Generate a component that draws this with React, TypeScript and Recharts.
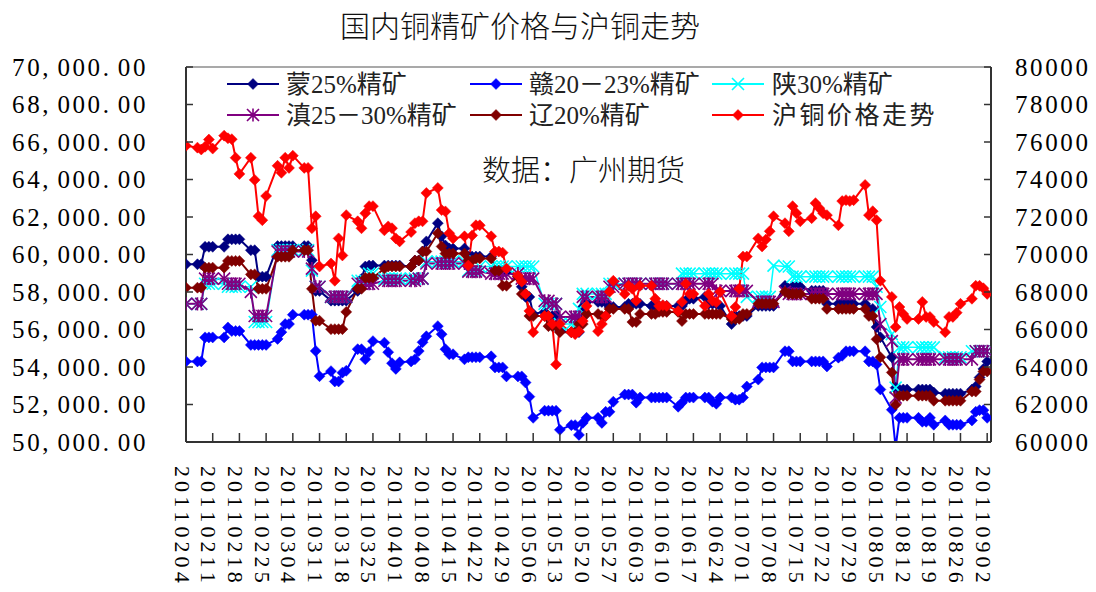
import React from 'react';
import { ComposedChart, Line, XAxis, YAxis, ReferenceLine, Legend } from 'recharts';

const dates = [
  '20110204',
  '20110207', '20110208', '20110209', '20110210', '20110211',
  '20110214', '20110215', '20110216', '20110217', '20110218',
  '20110221', '20110222', '20110223', '20110224', '20110225',
  '20110228', '20110301', '20110302', '20110303', '20110304',
  '20110307', '20110308', '20110309', '20110310', '20110311',
  '20110314', '20110315', '20110316', '20110317', '20110318',
  '20110321', '20110322', '20110323', '20110324', '20110325',
  '20110328', '20110329', '20110330', '20110331', '20110401',
  '20110404', '20110405', '20110406', '20110407', '20110408',
  '20110411', '20110412', '20110413', '20110414', '20110415',
  '20110418', '20110419', '20110420', '20110421', '20110422',
  '20110425', '20110426', '20110427', '20110428', '20110429',
  '20110502', '20110503', '20110504', '20110505', '20110506',
  '20110509', '20110510', '20110511', '20110512', '20110513',
  '20110516', '20110517', '20110518', '20110519', '20110520',
  '20110523', '20110524', '20110525', '20110526', '20110527',
  '20110530', '20110531', '20110601', '20110602', '20110603',
  '20110606', '20110607', '20110608', '20110609', '20110610',
  '20110613', '20110614', '20110615', '20110616', '20110617',
  '20110620', '20110621', '20110622', '20110623', '20110624',
  '20110627', '20110628', '20110629', '20110630', '20110701',
  '20110704', '20110705', '20110706', '20110707', '20110708',
  '20110711', '20110712', '20110713', '20110714', '20110715',
  '20110718', '20110719', '20110720', '20110721', '20110722',
  '20110725', '20110726', '20110727', '20110728', '20110729',
  '20110801', '20110802', '20110803', '20110804', '20110805',
  '20110808', '20110809', '20110810', '20110811', '20110812',
  '20110815', '20110816', '20110817', '20110818', '20110819',
  '20110822', '20110823', '20110824', '20110825', '20110826',
  '20110829', '20110830', '20110831', '20110901', '20110902',
];

// 蒙25%精矿
const meng = [
  59480,
  59480, 59480, 60410, 60410, 60410,
  60410, 60810, 60810, 60810, 60810,
  60230, 60230, 58820, 58820, 58820,
  60450, 60450, 60450, 60450, 60450,
  60450, 60450, 59700, 58060, 58060,
  57540, 57540, 57540, 57540, 57540,
  58060, 58700, 59360, 59410, 59410,
  59410, 59410, 59410, 59410, 59410,
  59360, 59680, 59680, 60160, 60700,
  61670, 60970, 60480, 60320, 60320,
  60320, 59890, 59890, 59890, 59890,
  59890, 59140, 59140, 59140, 59090,
  58820, 58280, 57740, 57740, 56830,
  56940, 56720, 56720, 56720, 55920,
  55860, 55860, 55860, 57200, 57470,
  57470, 57470, 57470, 57200, 57200,
  57200, 57370, 57370, 57370, 57370,
  57260, 57260, 57260, 57260, 57260,
  57260, 57260, 57530, 57640, 57640,
  57740, 57370, 57370, 57370, 57260,
  56290, 56720, 56720, 56720, 56720,
  57260, 57260, 57260, 57260, 57260,
  58330, 58170, 58280, 58280, 58280,
  58070, 58070, 58070, 58070, 57370,
  57370, 57370, 57370, 57370, 57370,
  57370, 57100, 57100, 56130, 55590,
  54520, 52900, 52800, 52800, 52800,
  52800, 52800, 52800, 52800, 52640,
  52580, 52580, 52580, 52580, 52580,
  52800, 52960, 53440, 53900, 54300,
];

// 赣20－23%精矿
const gan = [
  54300,
  54300, 54300, 55580, 55580, 55580,
  55580, 56110, 55920, 55920, 55920,
  55180, 55180, 55180, 55180, 55180,
  55500, 55860, 56290, 56290, 56790,
  56790, 56790, 56790, 54860, 53510,
  53780, 53230, 53230, 53700, 53800,
  54950, 54950, 54410, 54800, 55380,
  55300, 54790, 54200, 53900, 54250,
  54300, 54410, 54850, 55320, 55640,
  56180, 55750, 54950, 54680, 54680,
  54410, 54520, 54520, 54520, 54520,
  54570, 53980, 53980, 53980, 53500,
  53500, 53500, 53170, 52420, 51290,
  51670, 51670, 51670, 51670, 50650,
  50900, 50900, 50380, 51020, 51290,
  51290, 51020, 51610, 51610, 52150,
  52530, 52530, 52530, 52100, 52370,
  52370, 52370, 52370, 52370, 52370,
  51880, 52100, 52370, 52370, 52370,
  52370, 52370, 52150, 52040, 52370,
  52370, 52260, 52260, 52370, 52960,
  53330, 53980, 53980, 53980, 53980,
  54840, 54840, 54300, 54300, 54300,
  54300, 54300, 54300, 54300, 54030,
  54500, 54600, 54840, 54840, 54840,
  54840, 54300, 54300, 54140, 52800,
  51720, 49700, 51290, 51290, 51290,
  51290, 51080, 51080, 51290, 50920,
  51150, 50920, 50920, 50920, 50920,
  51150, 51610, 51700, 51700, 51290,
];

// 陕30%精矿
const shaan = [
  57370,
  57370, 57370, 58440, 58440, 58440,
  58440, 58280, 58280, 58280, 58280,
  58280, 56400, 56400, 56400, 56400,
  60230, 60230, 60230, 60230, 60230,
  60230, 60230, 59140, 58280, 58280,
  57740, 57740, 57740, 57740, 57740,
  58600, 58600, 58600, 58980, 58980,
  58710, 58710, 58710, 58710, 58710,
  58710, 58710, 58710, 58710, 59620,
  59620, 59620, 59620, 59620, 59620,
  59620, 59140, 59140, 59140, 59360,
  59360, 59360, 59360, 59360, 59360,
  59360, 59360, 59360, 59360, 59360,
  57370, 57370, 57370, 57370, 56290,
  56290, 56290, 57100, 57900, 57900,
  57900, 57900, 57900, 58440, 58440,
  58440, 58440, 58440, 58440, 58440,
  58440, 58440, 58440, 58440, 58440,
  58440, 58980, 58980, 58980, 58980,
  58980, 58980, 58980, 58980, 58980,
  58980, 58980, 58980, 58980, 57740,
  57740, 57740, 57740, 57740, 59410,
  59360, 59360, 58820, 58820, 58820,
  58820, 58820, 58820, 58820, 58820,
  58820, 58820, 58820, 58820, 58820,
  58820, 58820, 58820, 58280, 57200,
  55750, 52900, 55050, 55050, 55050,
  55050, 55050, 55050, 55050, 55050,
  54520, 54520, 54520, 54520, 54520,
  54840, 54840, 54840, 54840, 54840,
];

// 滇25－30%精矿
const dian = [
  57370,
  57370, 57370, 58710, 58710, 58710,
  58710, 58440, 58440, 58440, 58440,
  58010, 56720, 56720, 56720, 56720,
  60160, 60160, 60160, 60160, 60160,
  60160, 60160, 59250, 58280, 58280,
  57740, 57740, 57740, 57740, 57740,
  58440, 58440, 58440, 58440, 58440,
  58600, 58600, 58600, 58600, 58600,
  58600, 58600, 58710, 58710, 59520,
  59520, 59520, 59520, 59520, 59520,
  59520, 59090, 59090, 59090, 59090,
  58980, 58980, 58980, 58980, 58980,
  58980, 58710, 58710, 58710, 58710,
  57530, 57530, 57370, 57370, 56670,
  56670, 56670, 56670, 57740, 57740,
  57740, 57740, 57740, 58280, 58280,
  58440, 58440, 58440, 58440, 58440,
  58440, 58440, 58440, 58440, 58440,
  58440, 58440, 58440, 58440, 58440,
  58440, 58440, 58440, 58060, 58060,
  58060, 58060, 58060, 58060, 58060,
  57470, 57470, 57470, 57470, 57470,
  58010, 57900, 57900, 57900, 57900,
  57900, 57900, 57900, 57900, 57900,
  57900, 57900, 57900, 57900, 57900,
  57900, 57900, 57900, 57900, 56290,
  55380, 52370, 54410, 54410, 54410,
  54410, 54410, 54410, 54410, 54410,
  54410, 54410, 54410, 54410, 54410,
  54410, 54840, 54840, 54840, 54840,
];

// 辽20%精矿
const liao = [
  58230,
  58230, 58230, 59300, 59300, 59300,
  59300, 59660, 59660, 59660, 59660,
  58940, 58940, 58170, 58170, 58170,
  59880, 59880, 59880, 59880, 60230,
  60230, 60230, 58170, 56470, 56470,
  56020, 56020, 56020, 56020, 56940,
  58170, 58170, 58760, 58760, 58760,
  59250, 59360, 59360, 59360, 59360,
  59360, 59680, 59680, 60160, 60160,
  61130, 60430, 60050, 60050, 60050,
  60050, 59680, 59680, 59790, 59790,
  59790, 59140, 59140, 58330, 58330,
  58820, 57900, 57900, 56720, 56720,
  56720, 56180, 56180, 56180, 55860,
  55860, 55860, 56290, 56290, 56830,
  56830, 56720, 56720, 57100, 57100,
  57100, 57100, 56400, 56400, 56830,
  56830, 56830, 56940, 56940, 56940,
  56940, 56450, 56830, 56830, 56830,
  56830, 56830, 56830, 56830, 56830,
  56560, 56560, 56560, 56830, 56830,
  57370, 57370, 57370, 57370, 57370,
  58010, 57900, 57900, 57900, 57900,
  57640, 57640, 57640, 57640, 57100,
  57100, 57100, 57100, 57100, 57100,
  57100, 56720, 56720, 55480, 54520,
  53710, 51990, 52470, 52470, 52470,
  52470, 52470, 52470, 52470, 52200,
  52200, 52200, 52200, 52200, 52200,
  52690, 52690, 53330, 53760, 53760,
];

// 沪铜价格走势 (right axis)
const hutong = [
  75800,
  75700, 75600, 75750, 76130, 75650,
  76340, 76200, 76150, 75160, 74300,
  75160, 73980, 72040, 71830, 73120,
  74730, 74360, 75160, 74620, 75270,
  74620, 74620, 71400, 72040, 69360,
  69520, 68600, 70860, 69950, 72100,
  71770, 71400, 72200, 72580, 72580,
  71290, 71500, 71400, 70860, 70700,
  71200, 71670, 71770, 71770, 73280,
  73550, 72370, 72300, 71130, 70860,
  70970, 69410, 71020, 71560, 71560,
  70970, 70160, 70160, 70100, 69250,
  68870, 68550, 67900, 66990, 65860,
  66720, 66720, 66290, 64140, 66290,
  65860, 65750, 65900, 66450, 67260,
  65910, 66290, 66720, 68010, 68600,
  67900, 68330, 68170, 67530, 68330,
  68330, 67640, 67260, 67300, 67260,
  66990, 67470, 68440, 67900, 67900,
  67260, 67900, 67530, 67450, 68010,
  66720, 67200, 68170, 69890, 69890,
  70860, 70430, 70800, 71240, 72040,
  71670, 71240, 72580, 72200, 71770,
  71940, 72740, 72470, 72200, 72100,
  71560, 72850, 72900, 72850, 72900,
  73710, 72100, 72310, 71830, 68600,
  67740, 66130, 67200, 66830, 66560,
  66560, 67470, 66670, 66670, 66400,
  65860, 66670, 66670, 66900, 67370,
  67640, 68330, 68330, 68200, 67900,
];

const leftTicks = [50000, 52000, 54000, 56000, 58000, 60000, 62000, 64000, 66000, 68000, 70000];
const rightTicks = [60000, 62000, 64000, 66000, 68000, 70000, 72000, 74000, 76000, 78000, 80000];
const xTickLabels = [
  '20110204', '20110211', '20110218', '20110225', '20110304', '20110311', '20110318', '20110325',
  '20110401', '20110408', '20110415', '20110422', '20110429', '20110506', '20110513', '20110520',
  '20110527', '20110603', '20110610', '20110617', '20110624', '20110701', '20110708', '20110715',
  '20110722', '20110729', '20110805', '20110812', '20110819', '20110826', '20110902',
];

const seriesNames = ['蒙25%精矿', '赣20－23%精矿', '陕30%精矿', '滇25－30%精矿', '辽20%精矿', '沪铜价格走势'];
const seriesColors = ['#000080', '#0000FF', '#00FFFF', '#800080', '#800000', '#FF0000'];

const BASE = Date.UTC(2011, 1, 4);
const dayOf = (s: string) =>
  (Date.UTC(+s.slice(0, 4), +s.slice(4, 6) - 1, +s.slice(6, 8)) - BASE) / 86400000;
const dayToLabel: Record<number, string> = {};
xTickLabels.forEach((s) => (dayToLabel[dayOf(s)] = s));
const xTicks = xTickLabels.map(dayOf);

const data = dates.map((d, i) => ({
  day: dayOf(d),
  meng: meng[i],
  gan: gan[i],
  shaan: shaan[i],
  dian: dian[i],
  liao: liao[i],
  hutong: hutong[i],
}));

const FONT_NUM = "'Liberation Serif', 'Noto Sans CJK SC', serif";
const FONT_CJK = "'Liberation Serif', 'Noto Sans CJK SC', sans-serif";
const PITCH = 15.1;
const AXIS_COLOR = '#333333';

const charXs = (s: string, start: number) => s.split('').map((_, i) => (start + i * PITCH).toFixed(1)).join(' ');

const LeftTick = (props: any) => {
  const { x, y, payload } = props;
  const s = Number(payload.value).toLocaleString('en-US', { minimumFractionDigits: 2, maximumFractionDigits: 2 });
  const start = x - 38 - s.length * PITCH;
  return (
    <g>
      <line x1={x} x2={x + 7} y1={y} y2={y} stroke={AXIS_COLOR} strokeWidth={1.5} />
      <text x={charXs(s, start)} y={y} dominantBaseline="central" fontFamily={FONT_NUM} fontSize={25} fill="#000">
        {s}
      </text>
    </g>
  );
};

const RightTick = (props: any) => {
  const { x, y, payload } = props;
  const s = String(payload.value);
  return (
    <g>
      <line x1={x} x2={x - 7} y1={y} y2={y} stroke={AXIS_COLOR} strokeWidth={1.5} />
      <text x={charXs(s, x + 24)} y={y} dominantBaseline="central" fontFamily={FONT_NUM} fontSize={25} fill="#000">
        {s}
      </text>
    </g>
  );
};

const XTick = (props: any) => {
  const { x, y, payload } = props;
  const s = dayToLabel[payload.value] ?? '';
  return (
    <g>
      <line x1={x} x2={x} y1={y} y2={y - 9} stroke={AXIS_COLOR} strokeWidth={1.5} />
      <text
        transform={`translate(${x - 4},${y + 24}) rotate(90)`}
        x={charXs(s, 0)}
        y={0}
        dominantBaseline="central"
        fontFamily={FONT_NUM}
        fontSize={22}
        fill="#000"
      >
        {s}
      </text>
    </g>
  );
};

const Diamond = ({ cx, cy, color, r = 5.5 }: any) => (
  <path d={`M${cx},${cy - r}L${cx + r},${cy}L${cx},${cy + r}L${cx - r},${cy}Z`} fill={color} stroke={color} strokeWidth={0.5} />
);
const Cross = ({ cx, cy, color, r = 6 }: any) => (
  <path d={`M${cx - r},${cy - r}L${cx + r},${cy + r}M${cx - r},${cy + r}L${cx + r},${cy - r}`} stroke={color} strokeWidth={1.6} fill="none" />
);
const Star = ({ cx, cy, color, r = 6 }: any) => (
  <path
    d={`M${cx - r},${cy - r}L${cx + r},${cy + r}M${cx - r},${cy + r}L${cx + r},${cy - r}M${cx},${cy - r * 1.1}L${cx},${cy + r * 1.1}`}
    stroke={color}
    strokeWidth={1.6}
    fill="none"
  />
);

const markerKinds = ['diamond', 'diamond', 'cross', 'star', 'diamond', 'diamond'];

const Marker = ({ kind, cx, cy, color }: any) => {
  if (cx == null || cy == null || isNaN(cx) || isNaN(cy)) return null;
  if (kind === 'cross') return <Cross cx={cx} cy={cy} color={color} />;
  if (kind === 'star') return <Star cx={cx} cy={cy} color={color} />;
  return <Diamond cx={cx} cy={cy} color={color} />;
};

const makeDot = (kind: string, color: string, name: string) => (p: any) => (
  <g key={`${name}-${p.index}`}>
    <Marker kind={kind} cx={p.cx} cy={p.cy} color={color} />
  </g>
);

const legendPos = [
  { lx: 227, ty: 84, tx: 286 },
  { lx: 470, ty: 84, tx: 529 },
  { lx: 712, ty: 84, tx: 772 },
  { lx: 227, ty: 115, tx: 286 },
  { lx: 470, ty: 115, tx: 529 },
  { lx: 712, ty: 115, tx: 772 },
];

const LegendContent = () => (
  <svg width={1096} height={140} style={{ display: 'block' }}>
    {seriesNames.map((name, i) => {
      const p = legendPos[i];
      const color = seriesColors[i];
      return (
        <g key={name}>
          <line x1={p.lx} x2={p.lx + 52} y1={p.ty} y2={p.ty} stroke={color} strokeWidth={2} />
          <Marker kind={markerKinds[i]} cx={p.lx + 26} cy={p.ty} color={color} />
          <text
            x={p.tx}
            y={p.ty}
            dominantBaseline="central"
            fontFamily={FONT_CJK}
            fontSize={25}
            letterSpacing={i === 5 ? 2.5 : 0}
            fill="#222"
          >
            {name}
          </text>
        </g>
      );
    })}
  </svg>
);

const keys = ['meng', 'gan', 'shaan', 'dian', 'liao', 'hutong'];

export default function App() {
  return (
    <div style={{ position: 'absolute', left: 0, top: 0, width: 1096, height: 592, background: '#fff', overflow: 'hidden' }}>
      <div
        style={{
          position: 'absolute',
          left: 0,
          top: 5,
          width: 1040,
          textAlign: 'center',
          fontFamily: "'Noto Sans CJK SC', sans-serif",
          fontSize: 30,
          fontWeight: 300,
          color: '#111',
          lineHeight: '38px',
        }}
      >
        国内铜精矿价格与沪铜走势
      </div>
      <ComposedChart width={1096} height={592} data={data} margin={{ top: 67, right: 0, bottom: 0, left: 0 }}>
        <XAxis
          dataKey="day"
          type="number"
          domain={[0, 211]}
          ticks={xTicks}
          interval={0}
          height={150}
          tickSize={0}
          tickMargin={0}
          tickLine={false}
          tick={<XTick />}
          axisLine={{ stroke: AXIS_COLOR, strokeWidth: 2 }}
          allowDataOverflow
        />
        <YAxis
          yAxisId="left"
          orientation="left"
          width={186}
          domain={[50000, 70000]}
          ticks={leftTicks}
          interval={0}
          tickSize={0}
          tickMargin={0}
          tickLine={false}
          tick={<LeftTick />}
          axisLine={{ stroke: AXIS_COLOR, strokeWidth: 2 }}
          allowDataOverflow
        />
        <YAxis
          yAxisId="right"
          orientation="right"
          width={105}
          domain={[60000, 80000]}
          ticks={rightTicks}
          interval={0}
          tickSize={0}
          tickMargin={0}
          tickLine={false}
          tick={<RightTick />}
          axisLine={{ stroke: AXIS_COLOR, strokeWidth: 2 }}
          allowDataOverflow
        />
        <ReferenceLine yAxisId="left" y={70000} stroke="#8c8c8c" strokeWidth={1.5} />
        {keys.map((k, i) => (
          <Line
            key={k}
            yAxisId={k === 'hutong' ? 'right' : 'left'}
            dataKey={k}
            name={seriesNames[i]}
            stroke={seriesColors[i]}
            strokeWidth={k === 'shaan' ? 1.5 : 2}
            dot={makeDot(markerKinds[i], seriesColors[i], k)}
            activeDot={false}
            isAnimationActive={false}
            type="linear"
          />
        ))}
        <Legend
          layout="vertical"
          align="center"
          verticalAlign="middle"
          content={<LegendContent />}
          wrapperStyle={{ position: 'absolute', left: 0, top: 0, width: 1096, height: 140 }}
        />
      </ComposedChart>
      <div
        style={{
          position: 'absolute',
          left: 482,
          top: 150,
          fontFamily: "'Noto Sans CJK SC', sans-serif",
          fontSize: 29,
          fontWeight: 300,
          color: '#111',
          lineHeight: '36px',
          whiteSpace: 'nowrap',
        }}
      >
        数据：广州期货
      </div>
    </div>
  );
}
